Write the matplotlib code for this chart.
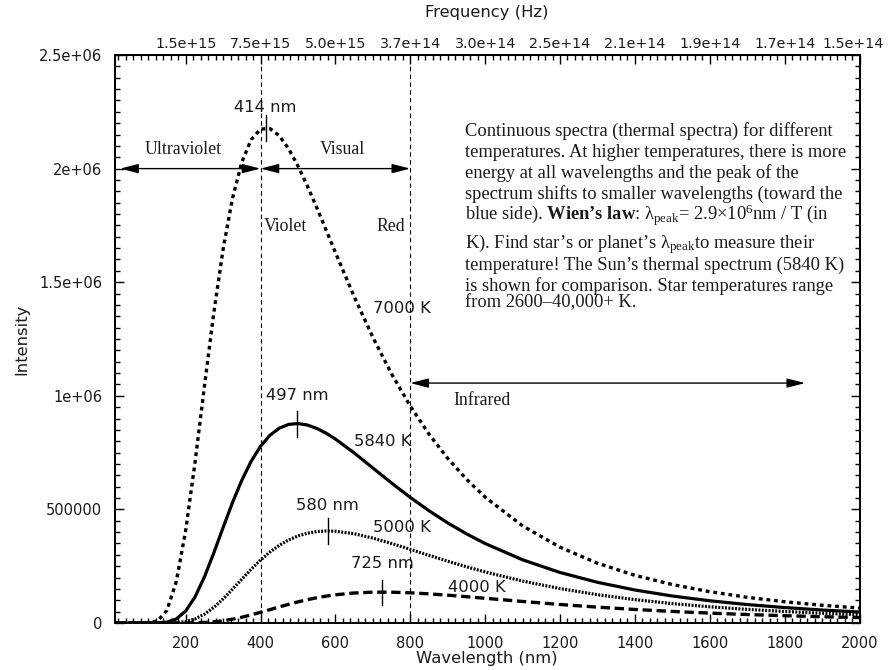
import matplotlib
matplotlib.use('Agg')
import matplotlib.pyplot as plt
from matplotlib.ticker import MultipleLocator
from matplotlib.transforms import ScaledTranslation

# ---------------- data ----------------
wavelength = [10, 100, 125, 150, 175, 200, 225, 250, 275, 300, 325, 350, 375, 400,
              425, 450, 475, 500, 525, 550, 575, 600, 650, 700, 750, 800, 850, 900,
              950, 1000, 1100, 1200, 1300, 1400, 1500, 1600, 1700, 1800, 1900, 2000]

intensity_7000 = [0, 450, 8930, 55600, 182200, 405700, 705300, 1038600, 1362100, 1644200,
                  1867800, 2028000, 2127500, 2173800, 2176600, 2145000, 2087600, 2011900,
                  1924300, 1829200, 1730400, 1631000, 1437300, 1257700, 1096700, 954900,
                  831500, 724900, 633000, 554000, 427500, 333600, 263200, 209900, 169200,
                  137700, 113100, 93600, 78100, 65700]

intensity_5840 = [0, 0, 340, 3640, 17600, 52500, 114500, 202100, 307400, 419800, 529300,
                  628200, 711700, 777700, 825900, 857400, 874000, 877900, 871500, 856700,
                  835600, 809600, 748800, 682500, 616200, 552800, 494100, 440600, 392600,
                  349800, 278200, 222400, 179100, 145300, 118800, 97800, 81200, 67900,
                  57100, 48400]

intensity_5000 = [0, 0, 0, 230, 1660, 6650, 18200, 38700, 68400, 105900, 148500, 192900,
                  236400, 276700, 312100, 341800, 365500, 383100, 395200, 402300, 405000,
                  403900, 392900, 373800, 350000, 324100, 297800, 272000, 247600, 224700,
                  184600, 151500, 124600, 102900, 85400, 71300, 59900, 50600, 42900, 36600]

intensity_4000 = [0, 0, 0, 0, 28, 187, 764, 2230, 5120, 9870, 16600, 25300, 35600, 46900,
                  58800, 70700, 82200, 92900, 102600, 111000, 118200, 124100, 132100,
                  135600, 135600, 132900, 128300, 122500, 115800, 108800, 94800, 81500,
                  69800, 59600, 50900, 43500, 37300, 32100, 27700, 23900]

peak_wavelength = [414, 497, 580, 725]
peak_intensity = [2180000, 878000, 405000, 136000]
peak_labels = ['414 nm', '497 nm', '580 nm', '725 nm']
peak_label_y = [2268000, 1003000, 519000, 264000]

temp_labels = ['7000 K', '5840 K', '5000 K', '4000 K']
temp_label_x = [778, 727, 778, 978]
temp_label_y = [1386000, 797000, 422500, 158000]

x_ticks = [200, 400, 600, 800, 1000, 1200, 1400, 1600, 1800, 2000]
freq_tick_labels = ['1.5e+15', '7.5e+15', '5.0e+15', '3.7e+14', '3.0e+14',
                    '2.5e+14', '2.1e+14', '1.9e+14', '1.7e+14', '1.5e+14']
y_ticks = [0, 500000, 1000000, 1500000, 2000000, 2500000]
y_tick_labels = ['0', '500000', '1e+06', '1.5e+06', '2e+06', '2.5e+06']

band_edges = [400, 800]

paragraph = [
    "Continuous spectra (thermal spectra) for different",
    "temperatures. At higher temperatures, there is more",
    "energy at all wavelengths and the peak of the",
    "spectrum shifts to smaller wavelengths (toward the",
    r"blue side). $\mathbf{Wien’s\ law}$: $\mathrm{\lambda}_{\mathrm{peak}}$= 2.9×10$^{6}$nm / T (in",
    r"K). Find star’s or planet’s $\mathrm{\lambda}_{\mathrm{peak}}$to measure their",
    "temperature! The Sun’s thermal spectrum (5840 K)",
    "is shown for comparison. Star temperatures range",
    "from 2600–40,000+ K.",
]
paragraph_y = [2165000, 2072000, 1980000, 1888000, 1795000, 1670000, 1575000, 1482000, 1410000]

# ---------------- style ----------------
plt.rcParams['font.family'] = ['DejaVu Sans']
plt.rcParams['mathtext.fontset'] = 'custom'
plt.rcParams['mathtext.rm'] = 'Liberation Serif'
plt.rcParams['mathtext.it'] = 'Liberation Serif:italic'
plt.rcParams['mathtext.bf'] = 'Liberation Serif:bold'

TXT = '#1a1a1a'
fig = plt.figure(figsize=(8.88, 6.7), dpi=100)
ax = fig.add_axes([114.5 / 888, 47 / 670, 745 / 888, 568 / 670])

ax.set_xlim(10, 2000)
ax.set_ylim(0, 2500000)

# curves
ax.plot(wavelength, intensity_7000, color='k', lw=2.4, linestyle=(0, (1.15, 1.15)),
        dash_capstyle='butt', zorder=3)
ax.plot(wavelength, intensity_5840, color='k', lw=2.3, linestyle='-', zorder=3)
ax.plot(wavelength, intensity_5000, color='k', lw=2.3, linestyle=(0, (0.6, 0.45)),
        dash_capstyle='butt', zorder=3)
ax.plot(wavelength, intensity_4000, color='k', lw=2.4, linestyle=(0, (2.8, 1.4)),
        dash_capstyle='butt', zorder=3)

# band edges
for b in band_edges:
    ax.axvline(b, color='k', lw=0.8, linestyle=(0, (4, 3)), zorder=2)

# peak markers and labels
for w, p, ly, lab in zip(peak_wavelength, peak_intensity, peak_label_y, peak_labels):
    ax.plot([w, w], [p - 58000, p + 55000], color='k', lw=1.0, zorder=4)
    ax.text(w, ly, lab, ha='center', va='center', fontsize=11.8, color=TXT)

for lab, x, y in zip(temp_labels, temp_label_x, temp_label_y):
    ax.text(x, y, lab, ha='center', va='center', fontsize=11.8, color=TXT)

# region arrows
ap = dict(arrowstyle='<|-|>,head_length=1.1,head_width=0.28', color='k', lw=1.0,
          shrinkA=0, shrinkB=0)
ax.annotate('', xy=(25, 2000000), xytext=(band_edges[0], 2000000), arrowprops=ap)
ax.annotate('', xy=(band_edges[0], 2000000), xytext=(band_edges[1], 2000000), arrowprops=ap)
ax.annotate('', xy=(band_edges[1], 1056000), xytext=(1855, 1056000), arrowprops=ap)

serif = dict(family='Liberation Serif', fontsize=12.8, color=TXT)
ax.text(193, 2082000, 'Ultraviolet', ha='center', va='center', **serif)
ax.text(620, 2082000, 'Visual', ha='center', va='center', **serif)
ax.text(410, 1747000, 'Violet', ha='left', va='center', **serif)
ax.text(786, 1747000, 'Red', ha='right', va='center', **serif)
ax.text(914, 981000, 'Infrared', ha='left', va='center', **serif)

para_style = dict(family='Liberation Serif', fontsize=13.3, color=TXT)
for line, y in zip(paragraph, paragraph_y):
    ax.text(945, y, line, ha='left', va='center', **para_style)

# ticks
ax.set_xticks(x_ticks)
ax.set_xticklabels([str(t) for t in x_ticks])
ax.xaxis.set_minor_locator(MultipleLocator(20))
ax.set_yticks(y_ticks)
ax.set_yticklabels(y_tick_labels)
ax.yaxis.set_minor_locator(MultipleLocator(50000))
ax.tick_params(which='both', direction='in', top=False, right=True, width=1.0,
               colors='k', labelcolor=TXT, labelsize=10.5)
ax.tick_params(which='major', length=6.5)
ax.tick_params(which='minor', length=3.6)
ax.tick_params(axis='x', which='major', pad=9)
ax.tick_params(axis='y', which='major', pad=9)

ax2 = ax.twiny()
ax2.set_xlim(ax.get_xlim())
ax2.set_xticks(x_ticks)
ax2.set_xticklabels(freq_tick_labels)
ax2.xaxis.set_minor_locator(MultipleLocator(20))
ax2.tick_params(which='both', direction='in', width=1.0, labelcolor=TXT, labelsize=10.3)
ax2.tick_params(which='major', length=6.5, pad=3)
ax2.tick_params(which='minor', length=3.6)
last = ax2.get_xticklabels()[-1]
last.set_transform(last.get_transform() + ScaledTranslation(-6 / 100, 0, fig.dpi_scale_trans))

for a in (ax, ax2):
    for s in a.spines.values():
        s.set_linewidth(1.3)

fig.text(487 / 888, 1 - 12 / 670, 'Frequency (Hz)', ha='center', va='center',
         fontsize=11.8, color=TXT)
fig.text(487 / 888, 1 - 659 / 670, 'Wavelength (nm)', ha='center', va='center',
         fontsize=11.8, color=TXT)
fig.text(22 / 888, 1 - 339 / 670, 'Intensity', ha='center', va='center',
         rotation=90, fontsize=11.8, color=TXT)

fig.savefig('out.png', dpi=100, facecolor='white')
